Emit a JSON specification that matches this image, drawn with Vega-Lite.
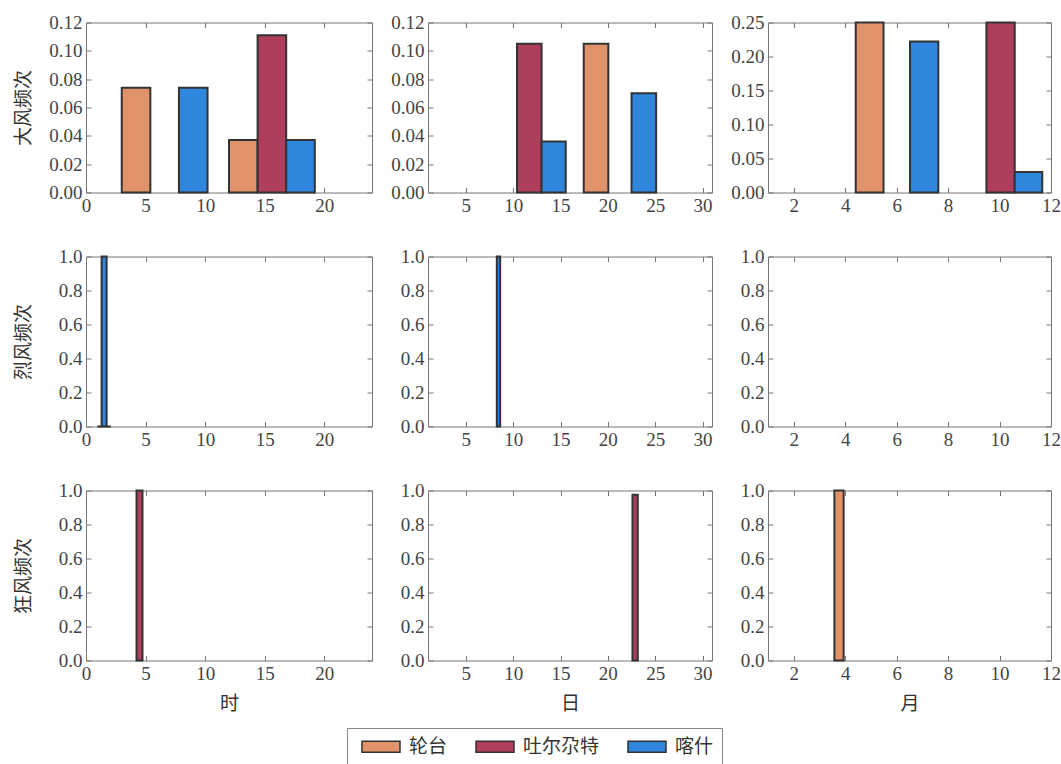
{
  "$schema": "https://vega.github.io/schema/vega-lite/v6.json",
  "autosize": {"type": "none"},
  "padding": {"left": 86, "top": 22.5, "right": 975, "bottom": 741.5},
  "background": "white",
  "data": {
    "values": [
      {"w": "大风", "t": "时", "s": "轮台", "a": 3.0, "b": 5.4, "v": 0.074},
      {"w": "大风", "t": "时", "s": "喀什", "a": 7.8, "b": 10.2, "v": 0.074},
      {"w": "大风", "t": "时", "s": "轮台", "a": 12.0, "b": 14.4, "v": 0.037},
      {"w": "大风", "t": "时", "s": "吐尔尕特", "a": 14.4, "b": 16.8, "v": 0.111},
      {"w": "大风", "t": "时", "s": "喀什", "a": 16.8, "b": 19.2, "v": 0.037},
      {"w": "大风", "t": "日", "s": "吐尔尕特", "a": 10.4, "b": 13.0, "v": 0.105},
      {"w": "大风", "t": "日", "s": "喀什", "a": 13.0, "b": 15.55, "v": 0.036},
      {"w": "大风", "t": "日", "s": "轮台", "a": 17.45, "b": 20.05, "v": 0.105},
      {"w": "大风", "t": "日", "s": "喀什", "a": 22.5, "b": 25.1, "v": 0.070},
      {"w": "大风", "t": "月", "s": "轮台", "a": 4.41, "b": 5.49, "v": 0.25},
      {"w": "大风", "t": "月", "s": "喀什", "a": 6.52, "b": 7.62, "v": 0.222},
      {"w": "大风", "t": "月", "s": "吐尔尕特", "a": 9.49, "b": 10.59, "v": 0.25},
      {"w": "大风", "t": "月", "s": "喀什", "a": 10.59, "b": 11.66, "v": 0.03},
      {"w": "烈风", "t": "时", "s": "轮台", "a": 0.95, "b": 1.31, "v": 0},
      {"w": "烈风", "t": "时", "s": "喀什", "a": 1.31, "b": 1.73, "v": 1.0},
      {"w": "烈风", "t": "时", "s": "吐尔尕特", "a": 1.73, "b": 2.09, "v": 0},
      {"w": "烈风", "t": "日", "s": "喀什", "a": 8.27, "b": 8.62, "v": 1.0},
      {"w": "狂风", "t": "时", "s": "吐尔尕特", "a": 4.24, "b": 4.74, "v": 1.0},
      {"w": "狂风", "t": "日", "s": "吐尔尕特", "a": 22.6, "b": 23.16, "v": 0.975},
      {"w": "狂风", "t": "月", "s": "轮台", "a": 3.58, "b": 3.94, "v": 1.0}
    ]
  },
  "bounds": "flush",
  "columns": 3,
  "spacing": {"row": 64, "column": 56},
  "concat": [
    {
      "width": 286, "height": 170,
      "transform": [{"filter": "datum.w === '大风' && datum.t === '时'"}],
      "layer": [
        {"mark": {"type": "bar", "stroke": "#333", "strokeWidth": 2},
         "encoding": {
           "x": {"field": "a", "type": "quantitative", "scale": {"domain": [0, 24], "nice": false, "zero": false}, "axis": {"orient": "bottom", "values": [0, 5, 10, 15, 20], "title": null}},
           "x2": {"field": "b"},
           "y": {"field": "v", "type": "quantitative", "scale": {"domain": [0, 0.12], "nice": false}, "axis": {"orient": "left", "values": [0, 0.02, 0.04, 0.06, 0.08, 0.1, 0.12], "format": ".2f", "title": "大风频次", "titleX": -63, "titleY": 85, "titleAngle": -90, "titleAlign": "center", "titleBaseline": "middle"}},
           "y2": {"datum": 0},
           "color": {"field": "s", "type": "nominal", "scale": {"domain": ["轮台", "吐尔尕特", "喀什"], "range": ["#E0926A", "#AE3E5C", "#2F86DD"]}, "legend": {"orient": "none", "legendX": 261, "legendY": 705.5, "direction": "horizontal", "title": null}}
         }},
        {"mark": {"type": "bar", "opacity": 0},
         "encoding": {
           "x": {"field": "a", "type": "quantitative", "axis": {"orient": "top", "values": [0, 5, 10, 15, 20], "labels": false, "title": null}},
           "x2": {"field": "b"},
           "y": {"field": "v", "type": "quantitative", "axis": {"orient": "right", "values": [0, 0.02, 0.04, 0.06, 0.08, 0.1, 0.12], "labels": false, "title": null}},
           "y2": {"datum": 0}
         }}
      ],
      "resolve": {"axis": {"x": "independent", "y": "independent"}}
    },
    {
      "width": 284, "height": 170,
      "transform": [{"filter": "datum.w === '大风' && datum.t === '日'"}],
      "layer": [
        {"mark": {"type": "bar", "stroke": "#333", "strokeWidth": 2},
         "encoding": {
           "x": {"field": "a", "type": "quantitative", "scale": {"domain": [1, 31], "nice": false, "zero": false}, "axis": {"orient": "bottom", "values": [5, 10, 15, 20, 25, 30], "title": null}},
           "x2": {"field": "b"},
           "y": {"field": "v", "type": "quantitative", "scale": {"domain": [0, 0.12], "nice": false}, "axis": {"orient": "left", "values": [0, 0.02, 0.04, 0.06, 0.08, 0.1, 0.12], "format": ".2f", "title": null}},
           "y2": {"datum": 0},
           "color": {"field": "s", "type": "nominal", "scale": {"domain": ["轮台", "吐尔尕特", "喀什"], "range": ["#E0926A", "#AE3E5C", "#2F86DD"]}, "legend": {"orient": "none", "legendX": 261, "legendY": 705.5, "direction": "horizontal", "title": null}}
         }},
        {"mark": {"type": "bar", "opacity": 0},
         "encoding": {
           "x": {"field": "a", "type": "quantitative", "axis": {"orient": "top", "values": [5, 10, 15, 20, 25, 30], "labels": false, "title": null}},
           "x2": {"field": "b"},
           "y": {"field": "v", "type": "quantitative", "axis": {"orient": "right", "values": [0, 0.02, 0.04, 0.06, 0.08, 0.1, 0.12], "labels": false, "title": null}},
           "y2": {"datum": 0}
         }}
      ],
      "resolve": {"axis": {"x": "independent", "y": "independent"}}
    },
    {
      "width": 283, "height": 170,
      "transform": [{"filter": "datum.w === '大风' && datum.t === '月'"}],
      "layer": [
        {"mark": {"type": "bar", "stroke": "#333", "strokeWidth": 2},
         "encoding": {
           "x": {"field": "a", "type": "quantitative", "scale": {"domain": [1, 12], "nice": false, "zero": false}, "axis": {"orient": "bottom", "values": [2, 4, 6, 8, 10, 12], "title": null}},
           "x2": {"field": "b"},
           "y": {"field": "v", "type": "quantitative", "scale": {"domain": [0, 0.25], "nice": false}, "axis": {"orient": "left", "values": [0, 0.05, 0.1, 0.15, 0.2, 0.25], "format": ".2f", "title": null}},
           "y2": {"datum": 0},
           "color": {"field": "s", "type": "nominal", "scale": {"domain": ["轮台", "吐尔尕特", "喀什"], "range": ["#E0926A", "#AE3E5C", "#2F86DD"]}, "legend": {"orient": "none", "legendX": 261, "legendY": 705.5, "direction": "horizontal", "title": null}}
         }},
        {"mark": {"type": "bar", "opacity": 0},
         "encoding": {
           "x": {"field": "a", "type": "quantitative", "axis": {"orient": "top", "values": [2, 4, 6, 8, 10, 12], "labels": false, "title": null}},
           "x2": {"field": "b"},
           "y": {"field": "v", "type": "quantitative", "axis": {"orient": "right", "values": [0, 0.05, 0.1, 0.15, 0.2, 0.25], "labels": false, "title": null}},
           "y2": {"datum": 0}
         }}
      ],
      "resolve": {"axis": {"x": "independent", "y": "independent"}}
    },
    {
      "width": 286, "height": 170,
      "transform": [{"filter": "datum.w === '烈风' && datum.t === '时'"}],
      "layer": [
        {"mark": {"type": "bar", "stroke": "#333", "strokeWidth": 2},
         "encoding": {
           "x": {"field": "a", "type": "quantitative", "scale": {"domain": [0, 24], "nice": false, "zero": false}, "axis": {"orient": "bottom", "values": [0, 5, 10, 15, 20], "title": null}},
           "x2": {"field": "b"},
           "y": {"field": "v", "type": "quantitative", "scale": {"domain": [0, 1], "nice": false}, "axis": {"orient": "left", "values": [0, 0.2, 0.4, 0.6, 0.8, 1], "format": ".1f", "title": "烈风频次", "titleX": -63, "titleY": 85, "titleAngle": -90, "titleAlign": "center", "titleBaseline": "middle"}},
           "y2": {"datum": 0},
           "color": {"field": "s", "type": "nominal", "scale": {"domain": ["轮台", "吐尔尕特", "喀什"], "range": ["#E0926A", "#AE3E5C", "#2F86DD"]}, "legend": {"orient": "none", "legendX": 261, "legendY": 705.5, "direction": "horizontal", "title": null}}
         }},
        {"mark": {"type": "bar", "opacity": 0},
         "encoding": {
           "x": {"field": "a", "type": "quantitative", "axis": {"orient": "top", "values": [0, 5, 10, 15, 20], "labels": false, "title": null}},
           "x2": {"field": "b"},
           "y": {"field": "v", "type": "quantitative", "axis": {"orient": "right", "values": [0, 0.2, 0.4, 0.6, 0.8, 1], "labels": false, "title": null}},
           "y2": {"datum": 0}
         }}
      ],
      "resolve": {"axis": {"x": "independent", "y": "independent"}}
    },
    {
      "width": 284, "height": 170,
      "transform": [{"filter": "datum.w === '烈风' && datum.t === '日'"}],
      "layer": [
        {"mark": {"type": "bar", "stroke": "#333", "strokeWidth": 2},
         "encoding": {
           "x": {"field": "a", "type": "quantitative", "scale": {"domain": [1, 31], "nice": false, "zero": false}, "axis": {"orient": "bottom", "values": [5, 10, 15, 20, 25, 30], "title": null}},
           "x2": {"field": "b"},
           "y": {"field": "v", "type": "quantitative", "scale": {"domain": [0, 1], "nice": false}, "axis": {"orient": "left", "values": [0, 0.2, 0.4, 0.6, 0.8, 1], "format": ".1f", "title": null}},
           "y2": {"datum": 0},
           "color": {"field": "s", "type": "nominal", "scale": {"domain": ["轮台", "吐尔尕特", "喀什"], "range": ["#E0926A", "#AE3E5C", "#2F86DD"]}, "legend": {"orient": "none", "legendX": 261, "legendY": 705.5, "direction": "horizontal", "title": null}}
         }},
        {"mark": {"type": "bar", "opacity": 0},
         "encoding": {
           "x": {"field": "a", "type": "quantitative", "axis": {"orient": "top", "values": [5, 10, 15, 20, 25, 30], "labels": false, "title": null}},
           "x2": {"field": "b"},
           "y": {"field": "v", "type": "quantitative", "axis": {"orient": "right", "values": [0, 0.2, 0.4, 0.6, 0.8, 1], "labels": false, "title": null}},
           "y2": {"datum": 0}
         }}
      ],
      "resolve": {"axis": {"x": "independent", "y": "independent"}}
    },
    {
      "width": 283, "height": 170,
      "transform": [{"filter": "datum.w === '烈风' && datum.t === '月'"}],
      "layer": [
        {"mark": {"type": "bar", "stroke": "#333", "strokeWidth": 2},
         "encoding": {
           "x": {"field": "a", "type": "quantitative", "scale": {"domain": [1, 12], "nice": false, "zero": false}, "axis": {"orient": "bottom", "values": [2, 4, 6, 8, 10, 12], "title": null}},
           "x2": {"field": "b"},
           "y": {"field": "v", "type": "quantitative", "scale": {"domain": [0, 1], "nice": false}, "axis": {"orient": "left", "values": [0, 0.2, 0.4, 0.6, 0.8, 1], "format": ".1f", "title": null}},
           "y2": {"datum": 0},
           "color": {"field": "s", "type": "nominal", "scale": {"domain": ["轮台", "吐尔尕特", "喀什"], "range": ["#E0926A", "#AE3E5C", "#2F86DD"]}, "legend": {"orient": "none", "legendX": 261, "legendY": 705.5, "direction": "horizontal", "title": null}}
         }},
        {"mark": {"type": "bar", "opacity": 0},
         "encoding": {
           "x": {"field": "a", "type": "quantitative", "axis": {"orient": "top", "values": [2, 4, 6, 8, 10, 12], "labels": false, "title": null}},
           "x2": {"field": "b"},
           "y": {"field": "v", "type": "quantitative", "axis": {"orient": "right", "values": [0, 0.2, 0.4, 0.6, 0.8, 1], "labels": false, "title": null}},
           "y2": {"datum": 0}
         }}
      ],
      "resolve": {"axis": {"x": "independent", "y": "independent"}}
    },
    {
      "width": 286, "height": 170,
      "transform": [{"filter": "datum.w === '狂风' && datum.t === '时'"}],
      "layer": [
        {"mark": {"type": "bar", "stroke": "#333", "strokeWidth": 2},
         "encoding": {
           "x": {"field": "a", "type": "quantitative", "scale": {"domain": [0, 24], "nice": false, "zero": false}, "axis": {"orient": "bottom", "values": [0, 5, 10, 15, 20], "title": "时", "titleY": 43, "titleBaseline": "middle"}},
           "x2": {"field": "b"},
           "y": {"field": "v", "type": "quantitative", "scale": {"domain": [0, 1], "nice": false}, "axis": {"orient": "left", "values": [0, 0.2, 0.4, 0.6, 0.8, 1], "format": ".1f", "title": "狂风频次", "titleX": -63, "titleY": 85, "titleAngle": -90, "titleAlign": "center", "titleBaseline": "middle"}},
           "y2": {"datum": 0},
           "color": {"field": "s", "type": "nominal", "scale": {"domain": ["轮台", "吐尔尕特", "喀什"], "range": ["#E0926A", "#AE3E5C", "#2F86DD"]}, "legend": {"orient": "none", "legendX": 261, "legendY": 705.5, "direction": "horizontal", "title": null}}
         }},
        {"mark": {"type": "bar", "opacity": 0},
         "encoding": {
           "x": {"field": "a", "type": "quantitative", "axis": {"orient": "top", "values": [0, 5, 10, 15, 20], "labels": false, "title": null}},
           "x2": {"field": "b"},
           "y": {"field": "v", "type": "quantitative", "axis": {"orient": "right", "values": [0, 0.2, 0.4, 0.6, 0.8, 1], "labels": false, "title": null}},
           "y2": {"datum": 0}
         }}
      ],
      "resolve": {"axis": {"x": "independent", "y": "independent"}}
    },
    {
      "width": 284, "height": 170,
      "transform": [{"filter": "datum.w === '狂风' && datum.t === '日'"}],
      "layer": [
        {"mark": {"type": "bar", "stroke": "#333", "strokeWidth": 2},
         "encoding": {
           "x": {"field": "a", "type": "quantitative", "scale": {"domain": [1, 31], "nice": false, "zero": false}, "axis": {"orient": "bottom", "values": [5, 10, 15, 20, 25, 30], "title": "日", "titleY": 43, "titleBaseline": "middle"}},
           "x2": {"field": "b"},
           "y": {"field": "v", "type": "quantitative", "scale": {"domain": [0, 1], "nice": false}, "axis": {"orient": "left", "values": [0, 0.2, 0.4, 0.6, 0.8, 1], "format": ".1f", "title": null}},
           "y2": {"datum": 0},
           "color": {"field": "s", "type": "nominal", "scale": {"domain": ["轮台", "吐尔尕特", "喀什"], "range": ["#E0926A", "#AE3E5C", "#2F86DD"]}, "legend": {"orient": "none", "legendX": 261, "legendY": 705.5, "direction": "horizontal", "title": null}}
         }},
        {"mark": {"type": "bar", "opacity": 0},
         "encoding": {
           "x": {"field": "a", "type": "quantitative", "axis": {"orient": "top", "values": [5, 10, 15, 20, 25, 30], "labels": false, "title": null}},
           "x2": {"field": "b"},
           "y": {"field": "v", "type": "quantitative", "axis": {"orient": "right", "values": [0, 0.2, 0.4, 0.6, 0.8, 1], "labels": false, "title": null}},
           "y2": {"datum": 0}
         }}
      ],
      "resolve": {"axis": {"x": "independent", "y": "independent"}}
    },
    {
      "width": 283, "height": 170,
      "transform": [{"filter": "datum.w === '狂风' && datum.t === '月'"}],
      "layer": [
        {"mark": {"type": "bar", "stroke": "#333", "strokeWidth": 2},
         "encoding": {
           "x": {"field": "a", "type": "quantitative", "scale": {"domain": [1, 12], "nice": false, "zero": false}, "axis": {"orient": "bottom", "values": [2, 4, 6, 8, 10, 12], "title": "月", "titleY": 43, "titleBaseline": "middle"}},
           "x2": {"field": "b"},
           "y": {"field": "v", "type": "quantitative", "scale": {"domain": [0, 1], "nice": false}, "axis": {"orient": "left", "values": [0, 0.2, 0.4, 0.6, 0.8, 1], "format": ".1f", "title": null}},
           "y2": {"datum": 0},
           "color": {"field": "s", "type": "nominal", "scale": {"domain": ["轮台", "吐尔尕特", "喀什"], "range": ["#E0926A", "#AE3E5C", "#2F86DD"]}, "legend": {"orient": "none", "legendX": 261, "legendY": 705.5, "direction": "horizontal", "title": null}}
         }},
        {"mark": {"type": "bar", "opacity": 0},
         "encoding": {
           "x": {"field": "a", "type": "quantitative", "axis": {"orient": "top", "values": [2, 4, 6, 8, 10, 12], "labels": false, "title": null}},
           "x2": {"field": "b"},
           "y": {"field": "v", "type": "quantitative", "axis": {"orient": "right", "values": [0, 0.2, 0.4, 0.6, 0.8, 1], "labels": false, "title": null}},
           "y2": {"datum": 0}
         }}
      ],
      "resolve": {"axis": {"x": "independent", "y": "independent"}}
    }
  ],
  "config": {
    "view": {"stroke": "#777", "strokeWidth": 1},
    "axis": {
      "domain": false,
      "grid": false,
      "tickSize": -5,
      "tickColor": "#777",
      "tickWidth": 1,
      "labelFont": "Liberation Serif",
      "labelFontSize": 19,
      "labelColor": "#444",
      "labelPadding": 9,
      "labelFlush": false,
      "labelOverlap": false,
      "titleFont": "Noto Sans CJK SC",
      "titleFontSize": 19,
      "titleFontWeight": "normal",
      "titleColor": "#333"
    },
    "legend": {
      "symbolType": "M-0.37,-0.58H3.63V0.58H-0.37Z",
      "symbolSize": 361,
      "symbolStrokeColor": "#333",
      "symbolStrokeWidth": 1.5,
      "symbolOpacity": 1,
      "labelFont": "Noto Sans CJK SC",
      "labelFontSize": 19,
      "labelColor": "#333",
      "labelOffset": 33,
      "columnPadding": 21,
      "padding": 8,
      "strokeColor": "#888",
      "fillColor": "white"
    }
  }
}
